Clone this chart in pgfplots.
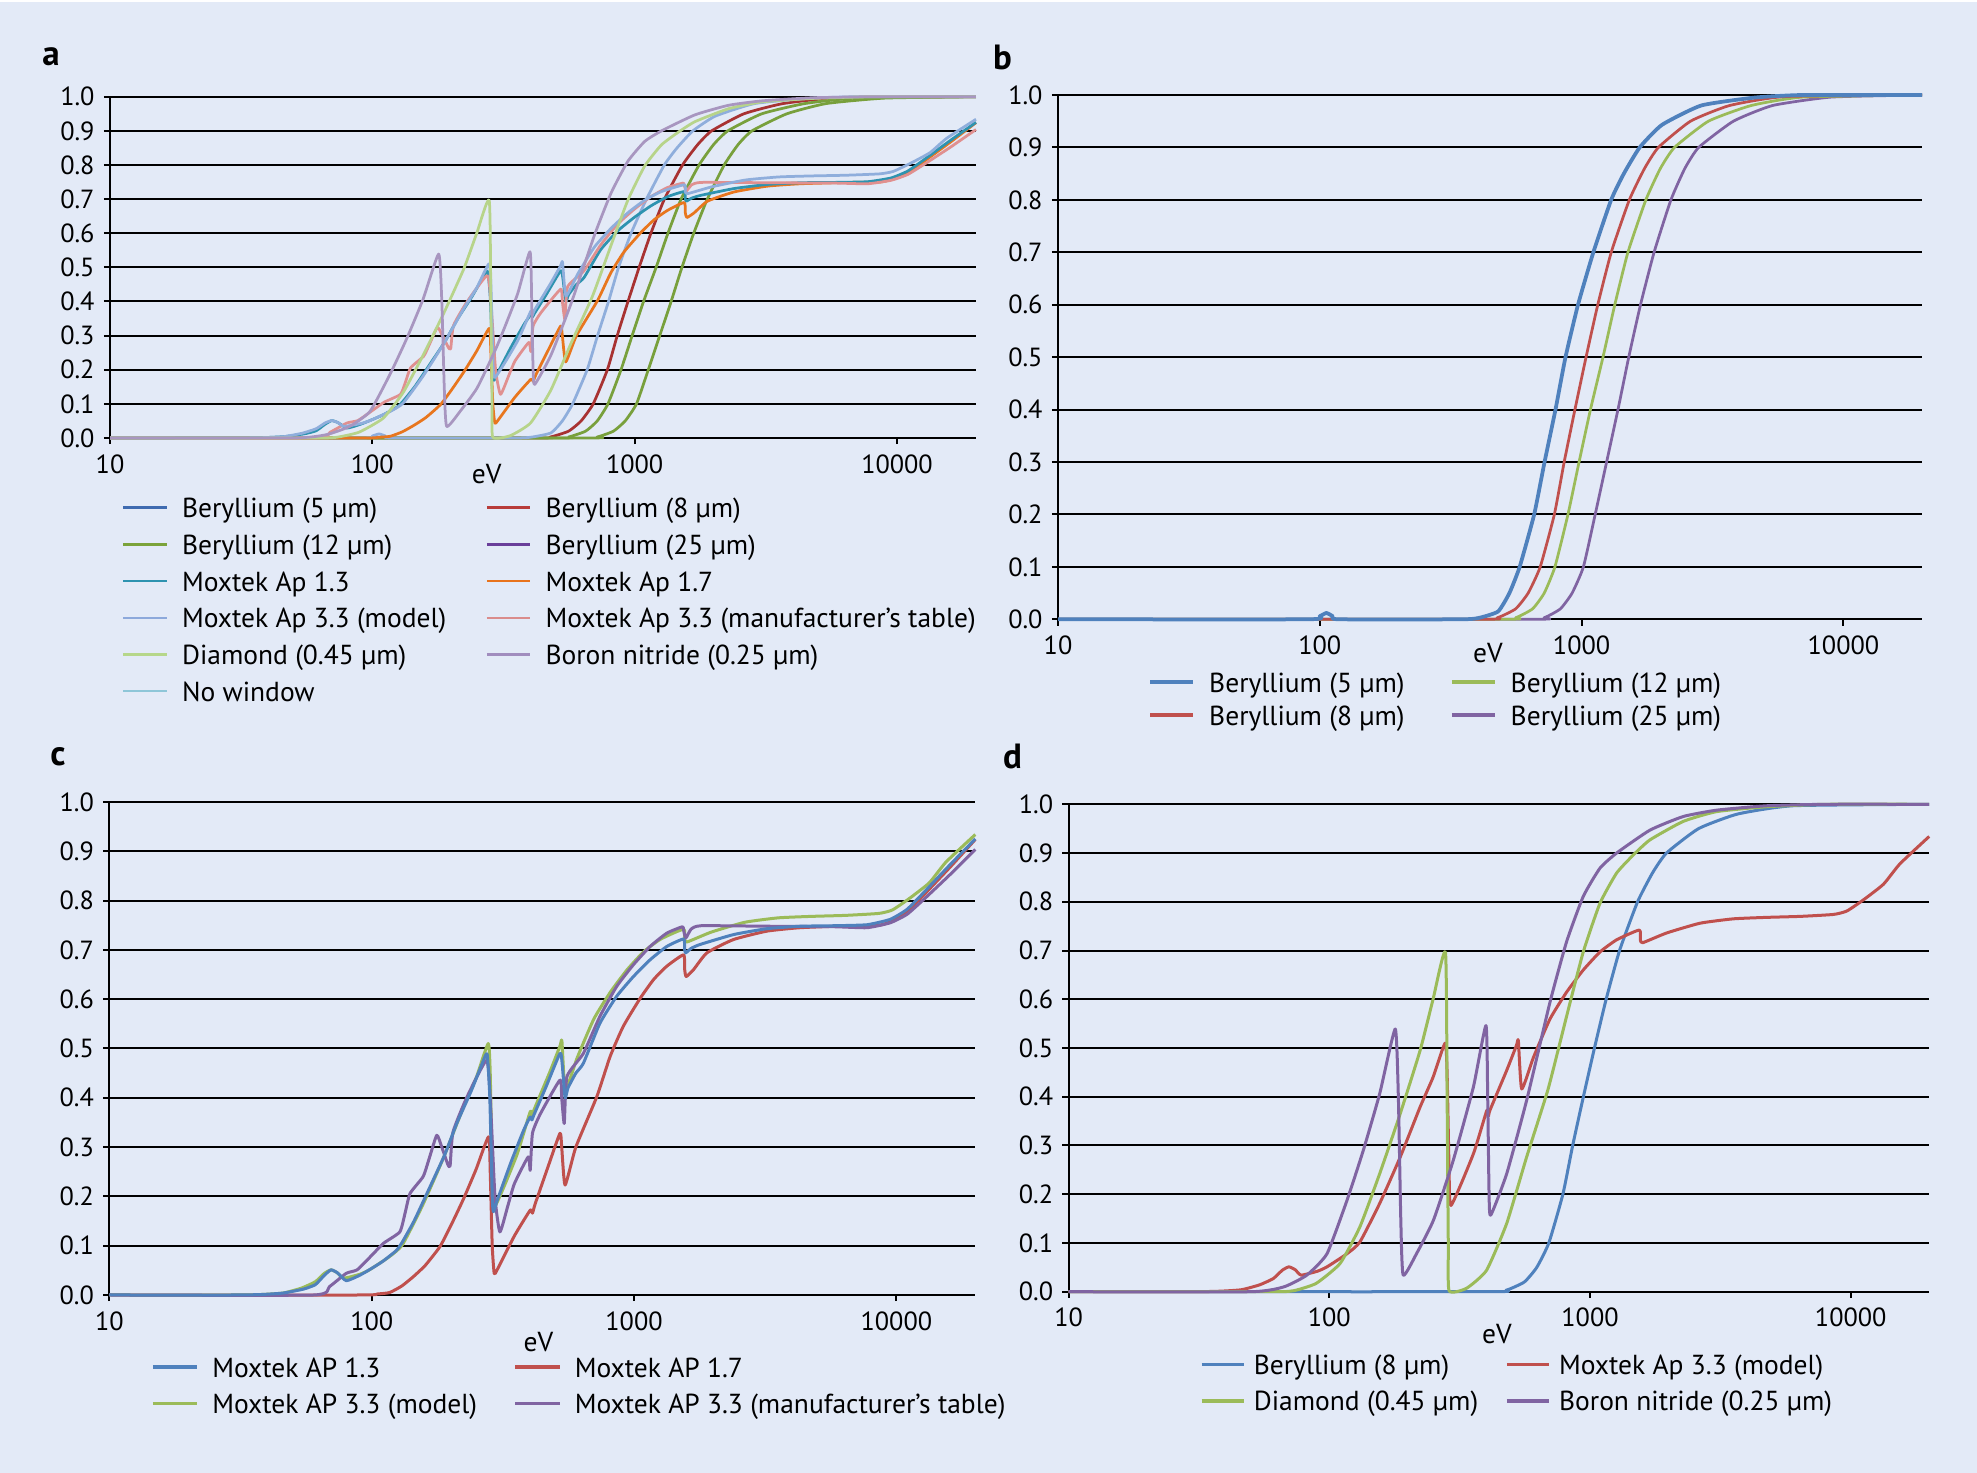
\documentclass[border=0pt]{standalone}
\usepackage{fontspec}
\setmainfont{PT Sans}
\setsansfont{PT Sans}
\usepackage{pgfplots}
\usepackage{pgfplotstable}
\pgfplotsset{compat=1.18}

\definecolor{bg}{HTML}{E3EAF7}
\definecolor{xblue}{HTML}{4F81BD}
\definecolor{xred}{HTML}{C0504D}
\definecolor{xgreen}{HTML}{9BBB59}
\definecolor{xpurple}{HTML}{8064A2}
\definecolor{aBeFive}{HTML}{8FAEDC}
\definecolor{aBeEight}{HTML}{A83232}
\definecolor{aBeGreen}{HTML}{78A03C}
\definecolor{aApOneThree}{HTML}{2E93B0}
\definecolor{aApOneSeven}{HTML}{E8761E}
\definecolor{aApModel}{HTML}{8FAEDC}
\definecolor{aApTable}{HTML}{E09090}
\definecolor{aDiamond}{HTML}{B7D48A}
\definecolor{aBN}{HTML}{A896C0}
\definecolor{lBeFive}{HTML}{3F6BB0}
\definecolor{lBeTwelve}{HTML}{7BA33A}
\definecolor{lApOneThree}{HTML}{2E93B0}
\definecolor{lApModel}{HTML}{8DA9DB}
\definecolor{lDiamond}{HTML}{B6D78A}
\definecolor{lNoWin}{HTML}{8EC6D8}
\definecolor{lBeEight}{HTML}{B83C3A}
\definecolor{lBeTwentyFive}{HTML}{6A3F9A}
\definecolor{lApOneSeven}{HTML}{E8731C}
\definecolor{lApTable}{HTML}{DA8C8C}
\definecolor{lBN}{HTML}{A18DBE}

\pgfplotstableread{
E T
10 0
90 0
100 0.006
106 0.012
112 0.006
118 0
350 0
408 0.003
480 0.015
530 0.05
580 0.1
659 0.2
722 0.3
795 0.4
868 0.5
969 0.6
1109 0.7
1297 0.8
1450 0.85
1667 0.9
2027 0.943
2865 0.98
4570 0.995
7000 1
20000 1
}\tBeFive

\pgfplotstableread{
E T
10 0
400 0
477 0.003
560 0.02
625 0.05
695 0.1
787 0.2
858 0.3
943 0.4
1040 0.5
1153 0.6
1298 0.7
1522 0.8
1740 0.86
1965 0.9
2606 0.95
3680 0.98
6000 0.997
20000 1
}\tBeEight

\pgfplotstableread{
E T
10 0
480 0
560 0.003
650 0.02
720 0.05
791 0.1
887 0.2
978 0.3
1081 0.4
1207 0.5
1339 0.6
1503 0.7
1760 0.8
2000 0.86
2264 0.9
3050 0.95
4450 0.98
7000 0.996
20000 1
}\tBeTwelve

\pgfplotstableread{
E T
10 0
620 0
720 0.003
830 0.02
920 0.05
1016 0.1
1127 0.2
1246 0.3
1377 0.4
1514 0.5
1679 0.6
1892 0.7
2194 0.8
2480 0.86
2800 0.9
3800 0.95
5370 0.98
9000 0.996
20000 1
}\tBeTwentyFive

\pgfplotstableread{
E T
10 0
30 0
38 0.001
46 0.004
55 0.012
61 0.021
66 0.040
70 0.051
74 0.045
80 0.029
90 0.040
100 0.054
110 0.068
124 0.090
130 0.105
145 0.15
167 0.22
190 0.285
211 0.348
240 0.415
270 0.483
276 0.486
282 0.40
288 0.20
291 0.169
300 0.19
340 0.27
380 0.335
402 0.361
408 0.355
415 0.365
460 0.42
522 0.49
532 0.47
546 0.40
560 0.42
600 0.45
641 0.47
741 0.551
859 0.606
995 0.646
1152 0.680
1334 0.707
1545 0.722
1560 0.700
1575 0.694
1650 0.703
1786 0.711
2394 0.731
3208 0.743
4300 0.748
5765 0.749
7727 0.751
9484 0.762
10975 0.782
12700 0.816
16040 0.873
20000 0.925
}\tApOneThree

\pgfplotstableread{
E T
10 0
30 0
38 0.001
46 0.004
54 0.014
61 0.027
66 0.044
70 0.051
74 0.045
78 0.034
90 0.042
98 0.051
117 0.078
131 0.102
156 0.181
187 0.276
223 0.379
250 0.44
278 0.510
283 0.45
288 0.25
293 0.177
357 0.283
402 0.372
408 0.360
413 0.372
479 0.454
522 0.505
531 0.515
547 0.416
607 0.481
703 0.560
814 0.615
942 0.660
1092 0.697
1265 0.722
1545 0.742
1560 0.722
1592 0.716
1968 0.736
2642 0.756
3546 0.765
4760 0.768
6390 0.770
8580 0.774
9660 0.781
11190 0.804
13350 0.836
15450 0.878
20000 0.934
}\tApModel

\pgfplotstableread{
E T
10 0
60 0
69 0.017
80 0.044
88 0.051
99 0.078
111 0.105
128 0.128
134 0.166
140 0.206
157 0.24
165 0.274
177 0.324
185 0.30
195 0.265
199 0.262
204 0.33
230 0.40
274 0.476
283 0.40
295 0.20
308 0.128
330 0.18
350 0.226
395 0.28
402 0.253
410 0.328
440 0.368
522 0.436
530 0.40
542 0.348
555 0.443
641 0.49
741 0.565
859 0.626
995 0.670
1152 0.707
1334 0.734
1530 0.747
1545 0.740
1575 0.724
1650 0.742
1800 0.749
3208 0.748
5765 0.747
7727 0.745
9484 0.755
10975 0.772
12700 0.802
16040 0.853
20000 0.904
}\tApTable

\pgfplotstableread{
E T
10 0
90 0
105 0.002
117 0.005
130 0.018
144 0.037
160 0.06
182 0.098
200 0.14
223 0.193
250 0.255
279 0.321
283 0.25
288 0.10
293 0.044
300 0.05
350 0.12
402 0.172
410 0.166
420 0.185
470 0.26
522 0.328
530 0.30
546 0.223
600 0.30
721 0.402
811 0.484
910 0.545
1056 0.602
1188 0.640
1334 0.667
1545 0.690
1560 0.660
1581 0.646
1686 0.660
1896 0.694
2394 0.721
3208 0.738
4300 0.745
6670 0.749
8580 0.750
9484 0.757
10975 0.777
12700 0.811
16040 0.868
20000 0.924
}\tApOneSeven

\pgfplotstableread{
E T
10 0
60 0
73 0.002
89 0.017
110 0.058
131 0.133
156 0.242
187 0.365
223 0.495
250 0.60
279 0.696
283 0.40
286 0.10
288 0.002
336 0.007
401 0.044
479 0.140
571 0.276
690 0.415
813 0.565
942 0.697
1092 0.797
1265 0.859
1466 0.896
1698 0.927
2280 0.965
3063 0.985
4760 0.995
8000 1
20000 1
}\tDiamond

\pgfplotstableread{
E T
10 0
50 0
67 0.010
82 0.034
98 0.078
117 0.188
135 0.290
156 0.406
179 0.539
184 0.40
188 0.15
192 0.034
216 0.078
251 0.147
299 0.270
357 0.420
399 0.546
405 0.40
410 0.20
416 0.157
479 0.242
571 0.392
703 0.595
813 0.718
942 0.811
1092 0.869
1265 0.900
1698 0.947
2280 0.975
3063 0.988
4760 0.997
8000 1
20000 1
}\tBN

\newcommand{\tfont}{\fontsize{10.5}{12}\selectfont}
\newcommand{\lfont}{\fontsize{11}{12}\selectfont}

\pgfplotsset{every axis/.append style={
    xmode=log, xmin=10, xmax=20000, ymin=0, ymax=1,
    scale only axis, clip=false,
    axis x line*=bottom, axis y line*=left,
    axis line style={-, black, line width=0.8pt},
    xtick={10,100,1000,10000}, xticklabels={10,100,1000,10000},
    ytick={0,0.1,0.2,0.3,0.4,0.5,0.6,0.7,0.8,0.9,1},
    yticklabels={0.0,0.1,0.2,0.3,0.4,0.5,0.6,0.7,0.8,0.9,1.0},
    xminorticks=false, yminorticks=false,
    ymajorgrids, major grid style={black, line width=0.8pt},
    tick align=outside, major tick length=2.5pt,
    tick style={black, line width=0.8pt},
    tick label style={font=\tfont},
    yticklabel style={anchor=east, inner sep=0pt, xshift=-3.5pt},
    xticklabel style={anchor=north, inner sep=0pt, yshift=-3.9pt},
    xlabel={eV},
    xlabel style={font=\lfont, anchor=center, inner sep=0pt},
    legend cell align=left,
    legend style={draw=none, fill=none, inner sep=0pt, outer sep=0pt,
      anchor=north west, font=\lfont,
      nodes={inner sep=0pt, text height=9.5pt, text depth=1.5pt},
      /tikz/every even column/.append style={column sep=0pt}},
  }}
\pgfplotsset{every axis plot/.append style={line width=1.1pt, line join=round, smooth, tension=0.3}}

\begin{document}
\begin{tikzpicture}
\useasboundingbox (0,0) rectangle (790.8pt,589.2pt);
\fill[bg] (0,0) rectangle (790.8pt,589.2pt);
\fill[white] (0,588.2pt) rectangle (790.8pt,589.2pt);

\node[font=\bfseries\fontsize{14}{16}\selectfont, inner sep=0pt] at (20.4pt,566.4pt) {a};
\node[font=\bfseries\fontsize{14}{16}\selectfont, inner sep=0pt] at (401pt,566.4pt) {b};
\node[font=\bfseries\fontsize{14}{16}\selectfont, inner sep=0pt] at (23.2pt,286.6pt) {c};
\node[font=\bfseries\fontsize{14}{16}\selectfont, inner sep=0pt] at (405pt,286.6pt) {d};

% ---------------- panel a
\begin{axis}[at={(44pt,414pt)}, anchor=south west,
  width=346.4pt, height=136.5pt,
  xlabel style={at={(axis description cs:0.435,-0.1055)}},
  legend columns=2,
  legend style={at={(axis description cs:0.0139,-0.1639)}, row sep=3.68pt, column sep=5.6pt},
  legend image code/.code={\draw[#1] (0pt,0pt) -- (17.4pt,0pt);},
]
\addplot[aBeEight, line width=1.1pt, forget plot] table {\tBeEight};
\addplot[aBeGreen, line width=1.1pt, forget plot] table {\tBeTwelve};
\addplot[aBeGreen, line width=1.1pt, forget plot] table {\tBeTwentyFive};
\addplot[aBeFive, line width=1.1pt, forget plot] table {\tBeFive};
\addplot[aApOneSeven, line width=1.1pt, forget plot] table {\tApOneSeven};
\addplot[aApOneThree, line width=1.1pt, forget plot] table {\tApOneThree};
\addplot[aApTable, line width=1.1pt, forget plot] table {\tApTable};
\addplot[aApModel, line width=1.1pt, forget plot] table {\tApModel};
\addplot[aDiamond, line width=1.1pt, forget plot] table {\tDiamond};
\addplot[aBN, line width=1.1pt, forget plot] table {\tBN};
\addlegendimage{lBeFive, line width=1pt}
\addlegendentry{\makebox[121.4pt][l]{Beryllium (5 µm)}}
\addlegendimage{lBeEight, line width=1pt}
\addlegendentry{Beryllium (8 µm)}
\addlegendimage{lBeTwelve, line width=1pt}
\addlegendentry{\makebox[121.4pt][l]{Beryllium (12 µm)}}
\addlegendimage{lBeTwentyFive, line width=1pt}
\addlegendentry{Beryllium (25 µm)}
\addlegendimage{lApOneThree, line width=1pt}
\addlegendentry{\makebox[121.4pt][l]{Moxtek Ap 1.3}}
\addlegendimage{lApOneSeven, line width=1pt}
\addlegendentry{Moxtek Ap 1.7}
\addlegendimage{lApModel, line width=1pt}
\addlegendentry{\makebox[121.4pt][l]{Moxtek Ap 3.3 (model)}}
\addlegendimage{lApTable, line width=1pt}
\addlegendentry{Moxtek Ap 3.3 (manufacturer’s table)}
\addlegendimage{lDiamond, line width=1pt}
\addlegendentry{\makebox[121.4pt][l]{Diamond (0.45 µm)}}
\addlegendimage{lBN, line width=1pt}
\addlegendentry{Boron nitride (0.25 µm)}
\addlegendimage{lNoWin, line width=1pt}
\addlegendentry{\makebox[121.4pt][l]{No window}}
\end{axis}

% ---------------- panel b
\begin{axis}[at={(423.2pt,341.48pt)}, anchor=south west,
  width=345.68pt, height=209.72pt,
  xlabel style={at={(axis description cs:0.4976,-0.0643)}},
  legend columns=2,
  legend style={at={(axis description cs:0.105,-0.0934)}, row sep=2.2pt, column sep=5.7pt},
  legend image code/.code={\draw[#1] (0pt,0pt) -- (17.2pt,0pt);},
]
\addplot[xpurple, forget plot] table {\tBeTwentyFive};
\addplot[xgreen, forget plot] table {\tBeTwelve};
\addplot[xred, forget plot] table {\tBeEight};
\addplot[xblue, line width=1.5pt, forget plot] table {\tBeFive};
\addlegendimage{xblue, line width=1.3pt}
\addlegendentry{\makebox[96.4pt][l]{Beryllium (5 µm)}}
\addlegendimage{xgreen, line width=1.3pt}
\addlegendentry{Beryllium (12 µm)}
\addlegendimage{xred, line width=1.3pt}
\addlegendentry{\makebox[96.4pt][l]{Beryllium (8 µm)}}
\addlegendimage{xpurple, line width=1.3pt}
\addlegendentry{Beryllium (25 µm)}
\end{axis}

% ---------------- panel c
\begin{axis}[at={(43.76pt,71.2pt)}, anchor=south west,
  width=346.36pt, height=197.2pt,
  xlabel style={at={(axis description cs:0.4954,-0.0947)}},
  legend columns=2,
  legend style={at={(axis description cs:0.0484,-0.1182)}, row sep=3.6pt, column sep=5.4pt},
  legend image code/.code={\draw[#1] (0pt,0pt) -- (17.7pt,0pt);},
]
\addplot[xred, line width=1.2pt, forget plot] table {\tApOneSeven};
\addplot[xgreen, line width=1.2pt, forget plot] table {\tApModel};
\addplot[xpurple, line width=1.2pt, forget plot] table {\tApTable};
\addplot[xblue, line width=1.2pt, forget plot] table {\tApOneThree};
\addlegendimage{xblue, line width=1.3pt}
\addlegendentry{\makebox[120.6pt][l]{Moxtek AP 1.3}}
\addlegendimage{xred, line width=1.3pt}
\addlegendentry{Moxtek AP 1.7}
\addlegendimage{xgreen, line width=1.3pt}
\addlegendentry{\makebox[120.6pt][l]{Moxtek AP 3.3 (model)}}
\addlegendimage{xpurple, line width=1.3pt}
\addlegendentry{Moxtek AP 3.3 (manufacturer’s table)}
\end{axis}

% ---------------- panel d
\begin{axis}[at={(427.44pt,72.52pt)}, anchor=south west,
  width=344.24pt, height=194.96pt,
  xlabel style={at={(axis description cs:0.4976,-0.0868)}},
  legend columns=2,
  legend style={at={(axis description cs:0.1528,-0.1209)}, row sep=3.64pt, column sep=3.2pt},
  legend image code/.code={\draw[#1] (0pt,0pt) -- (17pt,0pt);},
]
\addplot[xblue, line width=1.2pt, forget plot] table {\tBeEight};
\addplot[xred, line width=1.2pt, forget plot] table {\tApModel};
\addplot[xgreen, line width=1.2pt, forget plot] table {\tDiamond};
\addplot[xpurple, line width=1.2pt, forget plot] table {\tBN};
\addlegendimage{xblue, line width=1.3pt}
\addlegendentry{\makebox[100.6pt][l]{Beryllium (8 µm)}}
\addlegendimage{xred, line width=1.3pt}
\addlegendentry{Moxtek Ap 3.3 (model)}
\addlegendimage{xgreen, line width=1.3pt}
\addlegendentry{\makebox[100.6pt][l]{Diamond (0.45 µm)}}
\addlegendimage{xpurple, line width=1.3pt}
\addlegendentry{Boron nitride (0.25 µm)}
\end{axis}
\end{tikzpicture}
\end{document}
